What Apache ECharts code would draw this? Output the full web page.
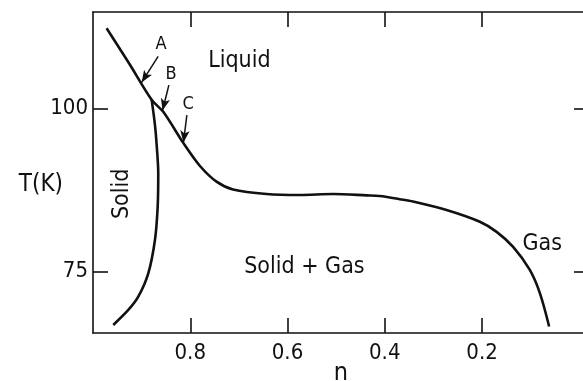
<!DOCTYPE html>
<html>
<head>
<meta charset="utf-8">
<script src="https://cdn.jsdelivr.net/npm/echarts@6/dist/echarts.min.js"></script>
<style>
html,body{margin:0;padding:0;background:#fff;overflow:hidden;width:583px;height:381px;}
#chart{width:600px;height:381px;}
</style>
</head>
<body>
<div id="chart"></div>
<script>
// Liquid boundary curve (n, T)
const mainN = [0.972, 0.9256, 0.879, 0.8555, 0.814, 0.780, 0.746, 0.712, 0.643, 0.575, 0.506, 0.437, 0.410, 0.369, 0.342, 0.273, 0.2045, 0.170, 0.136, 0.102, 0.081, 0.062];
const mainT = [112.3, 106.9, 101.3, 99.5, 94.7, 91.2, 88.8, 87.6, 86.9, 86.75, 86.9, 86.7, 86.6, 86.1, 85.75, 84.45, 82.65, 81.1, 78.8, 75.3, 71.7, 66.6];
// Solid boundary curve (n, T)
const solidN = [0.8793, 0.8726, 0.8691, 0.8658, 0.8670, 0.8726, 0.8863, 0.9069, 0.9274, 0.9583];
const solidT = [101.33, 97.5, 94.43, 90.09, 84.97, 79.86, 74.75, 71.17, 69.13, 66.83];
// Region labels
const regionText = ['Liquid', 'Solid', 'Solid + Gas', 'Gas'];
const regionN = [0.699, 0.9404, 0.5653, 0.0761];
const regionT = [107.3, 86.92, 75.64, 79.25];
const regionRotate = [0, 90, 0, 0];
// Arrow labels and arrows
const arrowText = ['A', 'B', 'C'];
const arrowTextN = [0.8602, 0.8397, 0.8041];
const arrowTextT = [109.77, 105.28, 100.67];
const arrowFromN = [0.866, 0.844, 0.807];
const arrowFromT = [108.0, 103.6, 99.0];
const arrowToN = [0.900, 0.857, 0.814];
const arrowToT = [104.0, 99.7, 94.8];
// Axis ticks
const xTicks = [0.2, 0.4, 0.6, 0.8];
const yTicks = [75, 100];
const xMin = -0.02, xMax = 1.0, yMin = 65.6, yMax = 114.8;

const FONT = "'DejaVu Sans Condensed', 'DejaVu Sans', sans-serif";
const INK = '#111111';

const zip = (a, b) => a.map((v, i) => [v, b[i]]);

const chart = echarts.init(document.getElementById('chart'), null, {renderer: 'canvas'});

const axisLineStyle = {color: INK, width: 1.6};

const option = {
  backgroundColor: '#fff',
  animation: false,
  textStyle: {fontFamily: FONT, color: INK},
  grid: {left: 93, top: 12, width: 496, height: 321, containLabel: false, outerBoundsMode: 'none'},
  xAxis: [{
    type: 'value', inverse: true, min: xMin, max: xMax, position: 'bottom',
    name: 'n', nameLocation: 'middle', nameGap: 28, nameMoveOverlap: false,
    nameTextStyle: {fontSize: 25, fontFamily: FONT, color: INK},
    axisLine: {show: true, onZero: false, lineStyle: axisLineStyle},
    axisTick: {show: true, inside: true, length: 15, lineStyle: axisLineStyle, customValues: xTicks},
    axisLabel: {show: true, customValues: xTicks, fontSize: 22, fontFamily: FONT, color: INK, margin: 9,
      formatter: v => v.toFixed(1)},
    splitLine: {show: false}
  }, {
    type: 'value', inverse: true, min: xMin, max: xMax, position: 'top',
    axisLine: {show: true, onZero: false, lineStyle: axisLineStyle},
    axisTick: {show: true, inside: true, length: 15, lineStyle: axisLineStyle, customValues: xTicks},
    axisLabel: {show: false},
    splitLine: {show: false}
  }],
  yAxis: [{
    type: 'value', min: yMin, max: yMax, position: 'left',
    name: 'T(K)', nameLocation: 'middle', nameRotate: 0, nameGap: 30, nameMoveOverlap: false,
    nameTextStyle: {fontSize: 24, fontFamily: FONT, color: INK, verticalAlign: 'top'},
    axisLine: {show: true, onZero: false, lineStyle: axisLineStyle},
    axisTick: {show: true, inside: true, length: 15, lineStyle: axisLineStyle, customValues: yTicks},
    axisLabel: {show: true, customValues: yTicks, fontSize: 22, fontFamily: FONT, color: INK, margin: 5},
    splitLine: {show: false}
  }, {
    type: 'value', min: yMin, max: yMax, position: 'right',
    axisLine: {show: true, onZero: false, lineStyle: axisLineStyle},
    axisTick: {show: true, inside: true, length: 15, lineStyle: axisLineStyle, customValues: yTicks},
    axisLabel: {show: false},
    splitLine: {show: false}
  }],
  series: [{
    type: 'line', name: 'liquid', data: zip(mainN, mainT), showSymbol: false, smooth: 0.3,
    lineStyle: {color: INK, width: 2.6}, silent: true,
    markLine: {
      silent: true, animation: false,
      symbol: ['none', 'arrow'], symbolSize: [7, 12],
      label: {show: false},
      lineStyle: {color: INK, width: 1.5, type: 'solid'},
      data: arrowFromN.map((n, i) => [
        {coord: [n, arrowFromT[i]]},
        {coord: [arrowToN[i], arrowToT[i]]}
      ])
    }
  }, {
    type: 'line', name: 'solid', data: zip(solidN, solidT), showSymbol: false, smooth: 0.3,
    lineStyle: {color: INK, width: 2.6}, silent: true
  }, {
    type: 'scatter', name: 'regions', symbolSize: 0, silent: true,
    itemStyle: {opacity: 1},
    data: regionText.map((t, i) => ({
      value: [regionN[i], regionT[i]],
      label: {show: true, position: 'inside', formatter: t, rotate: regionRotate[i],
        fontSize: 23, fontFamily: FONT, color: INK}
    }))
  }, {
    type: 'scatter', name: 'letters', symbolSize: 0, silent: true,
    itemStyle: {opacity: 1},
    data: arrowText.map((t, i) => ({
      value: [arrowTextN[i], arrowTextT[i]],
      label: {show: true, position: 'inside', formatter: t, fontSize: 18, fontFamily: FONT, color: INK}
    }))
  }]
};
chart.setOption(option);
</script>
</body>
</html>
